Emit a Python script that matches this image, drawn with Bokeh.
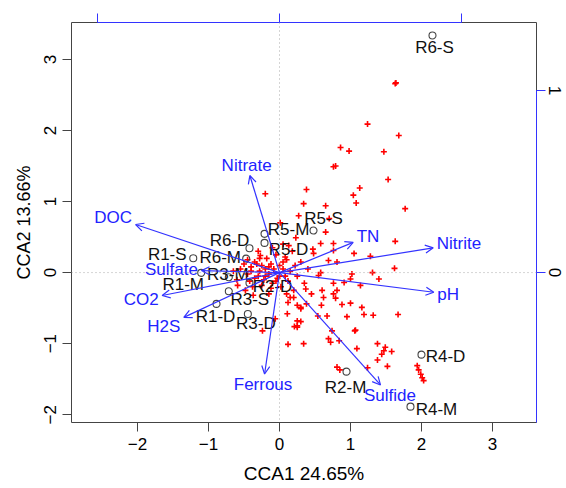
import math
from bokeh.plotting import figure
from bokeh.models import (Range1d, LinearAxis, FixedTicker, Span, Arrow, OpenHead,
                          ColumnDataSource)
from bokeh.embed import file_html
from bokeh.resources import INLINE
from bokeh.core.properties import value

# ---------------- data ----------------
x_title = "CCA1 24.65%"
y_title = "CCA2 13.66%"
x_ticks = [-2, -1, 0, 1, 2, 3]
y_ticks = [-2, -1, 0, 1, 2, 3]
arrow_x_ticks = [-1, 0, 1]
arrow_y_ticks = [0, 1]

site_names = ["R1-S", "R1-M", "R1-D", "R2-M", "R2-D", "R3-S", "R3-M", "R3-D",
              "R4-M", "R4-D", "R5-S", "R5-M", "R5-D", "R6-S", "R6-M", "R6-D"]
site_x = [-1.215, -1.103, -0.887, 0.944, -0.423, -0.714, -0.714, -0.446,
          1.845, 2.000, 0.479, -0.211, -0.211, 2.155, -0.469, -0.423]
site_y = [0.201, -0.004, -0.441, -1.394, -0.145, -0.263, -0.066, -0.582,
          -1.887, -1.155, 0.592, 0.545, 0.418, 3.338, 0.197, 0.342]

env_names = ["pH", "Nitrite", "TN", "Nitrate", "DOC", "Sulfate", "CO2", "H2S",
             "Ferrous", "Sulfide"]
env_x = [0.848, 0.845, 0.405, -0.163, -0.791, -0.429, -0.645, -0.526, -0.082, 0.555]
env_y = [-0.108, 0.136, 0.166, 0.533, 0.264, 0.011, -0.126, -0.246, -0.557, -0.617]

sp_x = [1.63, 1.64, 1.24, 1.68, 0.86, 0.98, 1.47, 0.76, 0.79, 1.53, 0.38, 1.13,
        -0.20, 1.04, 1.08, 1.77, 0.34, 0.65, 1.63, 0.76, 0.47, 1.05, 1.28, 0.69,
        0.81, 1.62, 1.31, 1.02, 1.00, 1.40, 0.58, 0.55, 0.76, 0.91, 0.60, 0.81,
        1.14, 0.37, 0.62, 0.79, 0.59, 0.88, 1.00, 1.16, 0.67, 0.95, 1.19, 1.32,
        1.67, 1.06, 1.07, 0.69, 0.72, 0.84, 1.09, 1.38, 1.49, 1.47, 1.44, 1.58,
        1.38, 1.24, 1.52, 0.85, 1.94, 1.96, 1.99, 2.01, 2.03, 0.12, 0.25, 0.30,
        0.38, -0.06, 0.25, 0.30, 0.21, 0.25, 0.74, 0.12, 0.34, 0.81, 0.65, 0.27,
        -0.55, -0.50, -0.45, -0.40, -0.35, -0.30, -0.28, -0.25, -0.22, -0.20,
        -0.18, -0.15, -0.12, -0.10, -0.08, -0.05, -0.03, 0.00, 0.02, 0.05, 0.08,
        0.10, 0.12, 0.15, 0.18, 0.20, 0.22, 0.25, 0.30, 0.35, -0.60, -0.65,
        -0.38, -0.30, -0.10, 0.05, 0.15, -0.15, 0.40, 0.45,
        0.01, 0.23, 0.58, 0.13, 0.48, 0.76, -0.27, 0.70, -0.59, -0.48, -0.37,
        0.20, 0.30, 0.11, 0.76, 0.54, 0.25, -0.24,
        -0.45, -0.40, -0.35, -0.25, -0.15, -0.05, 0.05, 0.10, -0.32, -0.20,
        0.00, 0.08, -0.42, -0.28, -0.12]
sp_y = [2.66, 2.67, 2.09, 1.93, 1.76, 1.71, 1.70, 1.49, 1.50, 1.31, 1.17, 1.19,
        1.11, 1.09, 0.98, 0.90, 0.97, 0.57, 0.44, 0.41, 0.33, 0.27, 0.23, 0.17,
        0.15, 0.06, 0.00, -0.02, -0.09, -0.09, 0.00, -0.04, -0.15, -0.14, -0.25,
        -0.25, -0.18, -0.23, -0.35, -0.36, -0.46, -0.45, -0.43, -0.49, -0.61,
        -0.62, -0.59, -0.60, -0.59, -0.82, -0.81, -0.93, -0.98, -0.96, -1.07,
        -1.00, -1.05, -1.10, -1.15, -1.11, -1.23, -1.34, -1.32, -1.37, -1.31,
        -1.37, -1.43, -1.48, -1.52, -0.42, -0.46, -0.49, -0.44, -0.65, -0.68,
        -0.69, -0.76, -0.77, -0.82, -1.01, -1.00, -1.33, 0.94, 0.80,
        0.05, 0.12, -0.02, 0.08, 0.15, -0.05, 0.02, 0.10, -0.10, 0.05, 0.20,
        -0.02, 0.12, -0.15, 0.05, 0.25, -0.08, 0.10, -0.20, 0.05, -0.05, 0.18,
        -0.12, 0.02, 0.30, -0.25, 0.10, -0.05, 0.15, -0.15, -0.10, 0.02, -0.20,
        0.30, 0.35, 0.40, -0.35, -0.30, 0.05, -0.30,
        0.70, 0.49, 0.41, 0.38, 0.27, 0.31, 0.24, 0.76, -0.18, -0.25, -0.32,
        -0.35, -0.51, -0.58, -0.30, -0.61, -0.75, -0.82,
        0.18, 0.02, -0.08, -0.18, 0.08, -0.12, 0.15, -0.30, 0.12, -0.05,
        -0.05, 0.22, -0.12, 0.20, -0.22]

# ---------------- layout / style ----------------
XR = (-2.93, 3.62)
YR = (-2.11, 3.52)
ARROW_MUL = 2.563
FRAME_W, FRAME_H = 465, 400
FONT = "Liberation Sans"
FS = 17
label_off_x = [-26, -18, -1, -1, 23, 21, -1, 8, 26, 24, 10, 24, 24, 2, -26, -20]
label_off_y = [-4, 12, 13, 16, 4, 8, -3, 10, 3, 2, -12, -4, 7, 12, -1, -8]

p = figure(width=566, height=488, x_range=Range1d(*XR), y_range=Range1d(*YR),
           output_backend="svg", toolbar_location=None,
           min_border_left=71, min_border_right=30, min_border_top=22,
           min_border_bottom=66, x_axis_location=None, y_axis_location=None)
p.grid.visible = False
p.outline_line_color = "#444444"
p.outline_line_width = 1
p.background_fill_color = "white"
p.border_fill_color = "white"

sx = FRAME_W / (XR[1] - XR[0])
sy = FRAME_H / (YR[1] - YR[0])

p.extra_x_ranges = {"ax": Range1d(XR[0] / ARROW_MUL, XR[1] / ARROW_MUL)}
p.extra_y_ranges = {"ay": Range1d(YR[0] / ARROW_MUL, YR[1] / ARROW_MUL)}

def style_axis(ax, color):
    ax.axis_line_color = color
    ax.major_tick_line_color = color
    ax.minor_tick_line_color = None
    ax.major_tick_in = 0
    ax.major_tick_out = 9
    ax.major_label_text_font = FONT
    ax.major_label_text_font_size = f"{FS}px"
    ax.major_label_text_color = "black"
    ax.axis_label_text_font = FONT
    ax.axis_label_text_font_size = "18px"
    ax.axis_label_text_font_style = "normal"
    ax.axis_label_text_color = "black"

minus = {-2: "\u22122", -1: "\u22121"}
bottom = LinearAxis(ticker=FixedTicker(ticks=x_ticks), axis_label=x_title)
style_axis(bottom, "#444444")
bottom.axis_line_color = None
bottom.major_label_overrides = minus
bottom.major_label_standoff = 6
bottom.axis_label_standoff = 10
bottom.axis_label_text_font_size = "19px"
p.add_layout(bottom, "below")

left = LinearAxis(ticker=FixedTicker(ticks=y_ticks), axis_label=y_title)
style_axis(left, "#444444")
left.axis_line_color = None
left.major_label_overrides = minus
left.major_label_orientation = "vertical"
left.major_label_standoff = 6
left.axis_label_standoff = 8
p.add_layout(left, "left")

# secondary (arrow-scale) axes
top = LinearAxis(x_range_name="ax", ticker=FixedTicker(ticks=arrow_x_ticks),
                 bounds=(arrow_x_ticks[0], arrow_x_ticks[-1]))
style_axis(top, "#3333ff")
top.major_label_overrides = {t: "" for t in arrow_x_ticks}
top.major_label_standoff = 0
top.major_label_text_font_size = "1px"
p.add_layout(top, "above")

right = LinearAxis(y_range_name="ay", ticker=FixedTicker(ticks=arrow_y_ticks),
                   bounds=(YR[0] / ARROW_MUL, arrow_y_ticks[-1]))
style_axis(right, "#3333ff")
right.major_label_orientation = "vertical"
right.major_label_standoff = 3
p.add_layout(right, "right")

# dotted zero lines
for dim in ("width", "height"):
    p.add_layout(Span(location=0, dimension=dim, line_color="#aaaaaa",
                      line_dash="1 3", line_width=1))

# species
p.scatter(sp_x, sp_y, marker="cross", size=6, line_color="#ff0000", line_width=1.6)

# environmental arrows
ax_end = [v * ARROW_MUL for v in env_x]
ay_end = [v * ARROW_MUL for v in env_y]
asrc = ColumnDataSource(dict(x0=[0] * len(env_x), y0=[0] * len(env_y), x1=ax_end, y1=ay_end))
p.add_layout(Arrow(source=asrc, x_start="x0", y_start="y0", x_end="x1", y_end="y1",
                   line_color="#3333ff", line_width=1.2,
                   end=OpenHead(size=8, line_color="#3333ff", line_width=1.2)))

# vegan-style label placement (ordiArrowTextXY)
cw = {"N": .722, "i": .222, "t": .278, "r": .333, "a": .556, "e": .556, "D": .722,
      "O": .778, "C": .722, "S": .667, "u": .556, "l": .222, "f": .278, "2": .556,
      "H": .722, "F": .611, "o": .556, "s": .5, "d": .556, "T": .611, "p": .556}
hpx = 14.0
lx, ly = [], []
for name, ex, ey in zip(env_names, ax_end, ay_end):
    dx, dy = ex * sx, ey * sy
    w = sum(cw.get(c, .556) for c in name) * FS
    o1 = math.copysign(w / 2 + hpx / 4, dx)
    o2 = math.copysign(0.75 * hpx, dy)
    b = dy / dx
    mv = o2 / b
    if abs(mv) <= abs(o1):
        o1 = mv
    else:
        o2 = b * o1
    lx.append((dx + o1) / sx)
    ly.append((dy + o2) / sy)
p.text(lx, ly, text=env_names, text_font=value(FONT), text_font_size=f"{FS}px",
       text_color="#2222ff", text_align="center", text_baseline="middle")

# sites
p.scatter(site_x, site_y, marker="circle", size=7, fill_color=None,
          line_color="#444444", line_width=1.1)
ssrc = ColumnDataSource(dict(x=site_x, y=site_y, t=site_names, ox=label_off_x, oy=label_off_y))
p.text("x", "y", text="t", x_offset="ox", y_offset="oy", source=ssrc,
       text_font=value(FONT), text_font_size=f"{FS}px", text_color="#111111",
       text_align="center", text_baseline="middle")

open("out.html", "w").write(file_html(p, INLINE))
